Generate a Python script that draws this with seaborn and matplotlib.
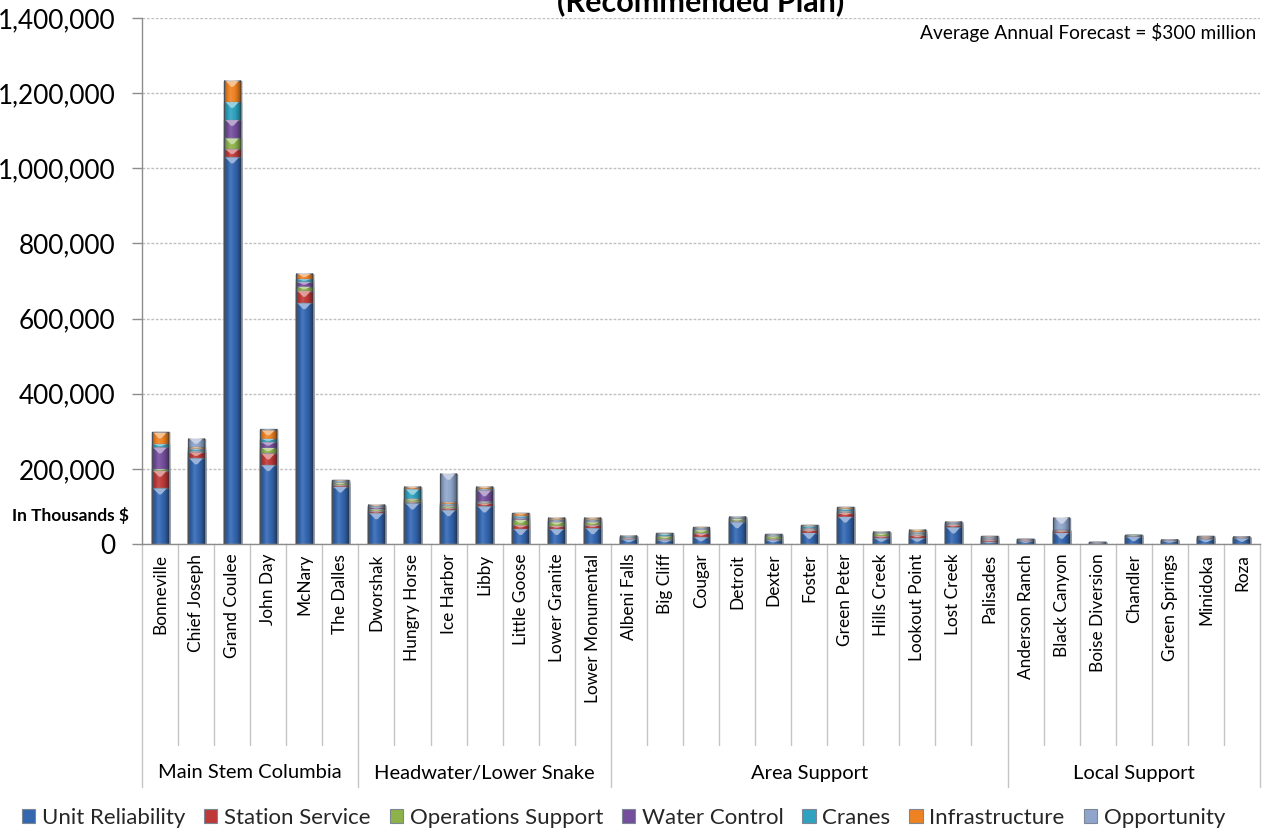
import numpy as np
import pandas as pd
import matplotlib
matplotlib.use("Agg")
import matplotlib.pyplot as plt
import seaborn as sns
from matplotlib.patches import Patch, Polygon
from matplotlib.colors import to_rgb
from matplotlib.ticker import FuncFormatter, MultipleLocator

# ---- data (in thousands of dollars) ----
projects = ["Bonneville", "Chief Joseph", "Grand Coulee", "John Day", "McNary", "The Dalles",
            "Dworshak", "Hungry Horse", "Ice Harbor", "Libby", "Little Goose", "Lower Granite",
            "Lower Monumental",
            "Albeni Falls", "Big Cliff", "Cougar", "Detroit", "Dexter", "Foster", "Green Peter",
            "Hills Creek", "Lookout Point", "Lost Creek", "Palisades",
            "Anderson Ranch", "Black Canyon", "Boise Diversion", "Chandler", "Green Springs",
            "Minidoka", "Roza"]
groups = ["Main Stem Columbia", "Headwater/Lower Snake", "Area Support", "Local Support"]
group_sizes = [6, 7, 11, 7]

unit_reliability = [148000, 228000, 1029000, 210000, 641000, 153000,
                    82000, 108000, 90000, 100000, 40000, 40000, 42000,
                    12000, 10000, 18000, 58000, 10000, 30000, 73000, 15000, 15000, 44000, 6000,
                    7000, 30000, 2000, 19000, 8000, 12000, 15000]
station_service = [47000, 16000, 22000, 31000, 33000, 4000,
                   5000, 5000, 5000, 8000, 10000, 8000, 8000,
                   4000, 3000, 10000, 2000, 4000, 7000, 10000, 6000, 8000, 7000, 5000,
                   4000, 4000, 1000, 1000, 2000, 5000, 3000]
operations_support = [4000, 2000, 29000, 15000, 11000, 6000,
                      5000, 6000, 5000, 5000, 15000, 10000, 8000,
                      1000, 7000, 9000, 7000, 6000, 3000, 3000, 7000, 3000, 2000, 1000,
                      0, 1000, 0, 3000, 0, 1000, 0]
water_control = [58000, 2000, 49000, 15000, 13000, 1000,
                 6000, 2000, 3000, 30000, 5000, 3000, 3000,
                 1000, 1000, 3000, 1000, 1000, 2000, 2000, 1000, 2000, 4000, 5000,
                 1000, 1000, 1000, 0, 1000, 1000, 1000]
cranes = [9000, 6000, 48000, 9000, 7000, 3000,
          2000, 25000, 3000, 3000, 5000, 4000, 4000,
          3000, 6000, 2000, 3000, 3000, 5000, 6000, 2000, 3000, 1000, 1000,
          0, 0, 0, 0, 0, 0, 0]
infrastructure = [31000, 4000, 56000, 23000, 14000, 3000,
                  4000, 6000, 5000, 6000, 7000, 5000, 5000,
                  1000, 2000, 3000, 1000, 2000, 3000, 4000, 2000, 7000, 1000, 2000,
                  1000, 1000, 1000, 0, 0, 2000, 0]
opportunity = [0, 22000, 0, 2000, 0, 0,
               0, 0, 76000, 0, 0, 0, 0,
               0, 0, 0, 0, 0, 0, 0, 0, 0, 0, 0,
               0, 33000, 0, 0, 0, 0, 0]

series_names = ["Unit Reliability", "Station Service", "Operations Support", "Water Control",
                "Cranes", "Infrastructure", "Opportunity"]
series_colors = ["#3467B0", "#BE3A38", "#8DB24A", "#744F9C", "#2EA2BF", "#EE8222", "#8FA5CB"]

df = pd.DataFrame({
    "Project": projects,
    "Unit Reliability": unit_reliability,
    "Station Service": station_service,
    "Operations Support": operations_support,
    "Water Control": water_control,
    "Cranes": cranes,
    "Infrastructure": infrastructure,
    "Opportunity": opportunity,
})
cum = df[series_names].cumsum(axis=1)

# ---- figure ----
sns.set_theme(style="white")
plt.rcParams["font.family"] = ["Lato", "DejaVu Sans"]

W, H = 1262, 832
fig = plt.figure(figsize=(W / 100, H / 100), dpi=100)
ax_l, ax_r, ax_t, ax_b = 142, 1260, 18, 544
ax = fig.add_axes([ax_l / W, 1 - ax_b / H, (ax_r - ax_l) / W, (ax_b - ax_t) / H])

BAR_W = 0.47
layer_patches = {}
# stacked bars: draw cumulative totals from the top series downwards
for name, col in zip(reversed(series_names), reversed(series_colors)):
    n_before = len(ax.patches)
    sns.barplot(x=df["Project"], y=cum[name], order=projects, color=col, saturation=1,
                width=BAR_W, errorbar=None, edgecolor="#7d8794", linewidth=1.0, ax=ax,
                zorder=2)
    layer_patches[name] = ax.patches[n_before:]

ax.set_ylim(0, 1400000)
ax.set_xlim(-0.5, len(projects) - 0.5)
y_per_px = 1400000 / (ax_b - ax_t)


def mix(c, other, a):
    c = np.array(to_rgb(c))
    return tuple(c * (1 - a) + np.array(other) * a)


# cylindrical shading over each stacked bar
t = np.linspace(0, 1, 64)
shade = np.interp(t, [0, 0.08, 0.38, 0.7, 0.92, 1], [-0.5, -0.2, 0.12, -0.05, -0.3, -0.55])
rgba = np.zeros((1, 64, 4))
rgba[0, :, :3] = np.where(shade[:, None] > 0, 1.0, 0.0)
rgba[0, :, 3] = np.abs(shade)

top_patches = layer_patches[series_names[-1]]
for i, p in enumerate(top_patches):
    x0, w, total = p.get_x(), p.get_width(), p.get_height()
    if total <= 0:
        continue
    ax.imshow(rgba, extent=[x0, x0 + w, 0, total], aspect="auto", interpolation="bilinear",
              zorder=2.5)

# bevel highlight at the top of each segment
for k, (name, col) in enumerate(zip(series_names, series_colors)):
    light = mix(col, (1, 1, 1), 0.5)
    for i, p in enumerate(layer_patches[name]):
        top = p.get_height()
        bottom = cum[series_names[k - 1]].iloc[i] if k > 0 else 0
        h = top - bottom
        if h <= 0:
            continue
        x0, w = p.get_x(), p.get_width()
        xc = x0 + w / 2
        th = min(6 * y_per_px, 0.6 * h)
        tri = Polygon([(x0 + 0.12 * w, top - 0.05 * th), (x0 + w - 0.12 * w, top - 0.05 * th),
                       (xc + 0.07 * w, top - th), (xc - 0.07 * w, top - th)],
                      closed=True, facecolor=light, edgecolor="none", zorder=3)
        ax.add_patch(tri)

# ---- axes styling ----
ax.set_xlabel("")
ax.set_ylabel("")
for s in ["top", "right"]:
    ax.spines[s].set_visible(False)
for s in ["left", "bottom"]:
    ax.spines[s].set_color("#8c8c8c")
    ax.spines[s].set_linewidth(1)

ax.yaxis.set_major_locator(MultipleLocator(200000))
ax.yaxis.set_major_formatter(FuncFormatter(lambda v, _: f"{v:,.0f}"))
ax.yaxis.grid(True, linestyle=(0, (2, 1.2)), color="#c0c0c0", linewidth=1)
ax.set_axisbelow(True)
ax.tick_params(axis="y", which="major", direction="out", length=7, width=1, color="#8c8c8c",
               pad=12, labelsize=18.8, left=True, labelcolor="#000000")
ax.tick_params(axis="x", length=0, pad=7, labelsize=12.4, labelcolor="#000000")
plt.setp(ax.get_xticklabels(), rotation=90, va="top", ha="center")

# category / group separators under the axis
trans = ax.get_xaxis_transform()
group_edges = set(np.concatenate([[0], np.cumsum(group_sizes)]).tolist())
short_y = -(745 - ax_b) / (ax_b - ax_t)
long_y = -(787 - ax_b) / (ax_b - ax_t)
for b in range(len(projects) + 1):
    y_end = long_y if b in group_edges else short_y
    ax.plot([b - 0.5, b - 0.5], [0, y_end], transform=trans, color="#c4c4c4", lw=1,
            clip_on=False, zorder=1)

start = 0
group_y = -(773 - ax_b) / (ax_b - ax_t)
for g, n in zip(groups, group_sizes):
    ax.text(start + n / 2 - 0.5, group_y, g, transform=trans, ha="center", va="center",
            fontsize=14.5, color="#000000")
    start += n

# ---- text ----
ax.text(0.997, 0.99, "Average Annual Forecast = $300 million", transform=ax.transAxes,
        ha="right", va="top", fontsize=13.8, color="#000000")
fig.text(12 / W, 1 - 516 / H, "In Thousands $", ha="left", va="center", fontsize=12.5,
         fontweight="bold", color="#000000")
fig.text((ax_l + ax_r) / 2 / W, 1 - 11 / H, "(Recommended Plan)", ha="center", va="baseline",
         fontsize=22, fontweight="bold", color="#000000")

handles = [Patch(facecolor=c, edgecolor="#7d8794", linewidth=0.8) for c in series_colors]
fig.legend(handles, series_names, loc="center", bbox_to_anchor=(0.494, 1 - 818 / H), ncol=7,
           frameon=False, fontsize=16.0, handlelength=0.6, handleheight=0.6,
           handletextpad=0.3, columnspacing=0.85, borderaxespad=0)

fig.savefig("out.png", dpi=100)
